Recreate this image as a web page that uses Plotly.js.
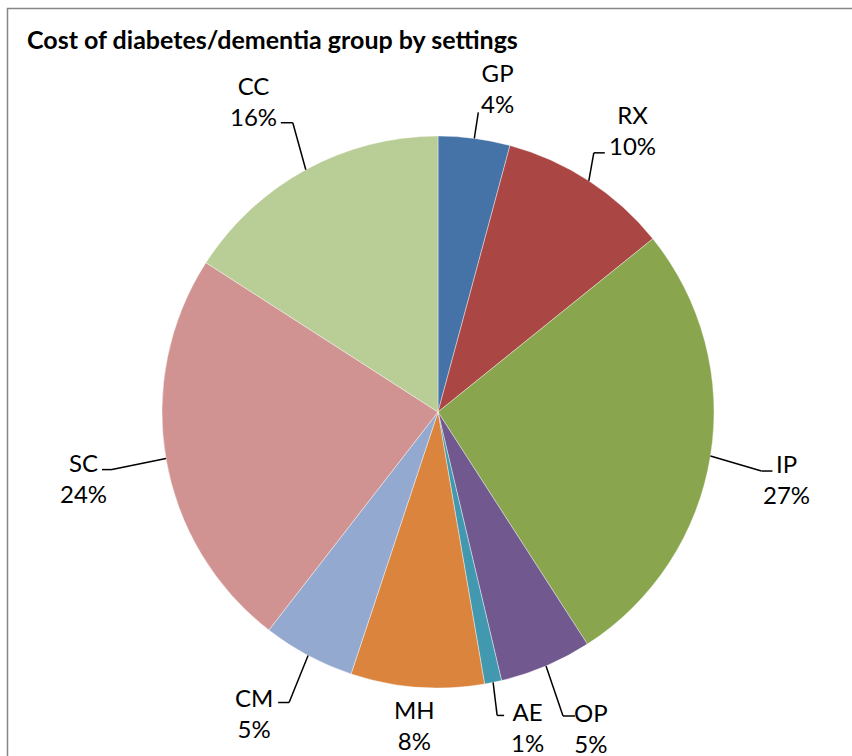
<!DOCTYPE html>
<html>
<head>
<meta charset="utf-8">
<script src="https://cdn.plot.ly/plotly-3.0.1.min.js"></script>
<style>
html,body{margin:0;padding:0;background:#fff;}
#chart{width:852px;height:756px;}
</style>
</head>
<body>
<div id="chart"></div>
<script>
// ---- data ----
const categories = ['GP', 'RX', 'IP', 'OP', 'AE', 'MH', 'CM', 'SC', 'CC'];
const values = [4.2, 10.0, 26.7, 5.4, 1.0, 7.8, 5.4, 23.6, 15.9];
const colors = ['#4572A7', '#AA4643', '#89A54E', '#71588F', '#4198AF', '#DB843D', '#93A9CF', '#D19392', '#B9CD96'];
const chartTitle = 'Cost of diabetes/dementia group by settings';

// ---- layout settings (pixels) ----
const W = 852, H = 756;
const CX = 438, CY = 412, R = 276;
// label centre offset from the slice edge point at mid-angle
const labelOffset = [[23, -50], [44, -51], [76, 23], [45, 62], [34, 45], [-3, 38], [-54, 57], [-82, 19], [-52, -69]];
// leader line: points relative to the label centre (elbow, end); null = no line
const leader = [
  [[-19, 24]],
  [[-39, 23], [-28, 23]],
  [[-25, -8], [-14, -8]],
  [[-28, -12], [-16, -12]],
  [[-30, -12], [-23, -12]],
  null,
  [[35, -10], [24, -10]],
  [[28, -8], [18, -8]],
  [[39, 22], [27, 22]]
];

const px = x => x / W;
const py = y => 1 - y / H;

const total = values.reduce((a, b) => a + b, 0);
let cum = 0;
const annotations = [];
const shapes = [];
values.forEach((v, i) => {
  const mid = (cum + v / 2) / total * 2 * Math.PI;
  cum += v;
  const ex = CX + R * Math.sin(mid);
  const ey = CY - R * Math.cos(mid);
  const lx = ex + labelOffset[i][0];
  const ly = ey + labelOffset[i][1];
  const pct = Math.round(v / total * 100) + '%';
  annotations.push({
    xref: 'paper', yref: 'paper', x: px(lx), y: py(ly),
    xanchor: 'center', yanchor: 'middle', showarrow: false,
    text: categories[i] + '<br>' + pct,
    font: {family: 'Lato, Carlito, sans-serif', size: 24, color: '#000'}
  });
  if (leader[i]) {
    let prev = [ex, ey];
    leader[i].forEach(p => {
      const q = [lx + p[0], ly + p[1]];
      shapes.push({type: 'line', xref: 'paper', yref: 'paper',
        x0: px(prev[0]), y0: py(prev[1]), x1: px(q[0]), y1: py(q[1]),
        line: {color: '#000', width: 1.5}});
      prev = q;
    });
  }
});

// outer chart frame
shapes.push({type: 'rect', xref: 'paper', yref: 'paper',
  x0: px(7.5), y0: py(8.5), x1: px(W + 20), y1: py(H + 20),
  line: {color: '#868686', width: 1.5}, fillcolor: 'rgba(0,0,0,0)'});

const trace = {
  type: 'pie',
  labels: categories,
  values: values,
  sort: false,
  direction: 'clockwise',
  rotation: 0,
  textinfo: 'none',
  hoverinfo: 'label+percent',
  marker: {colors: colors, line: {color: '#ffffff', width: 0.4}},
  domain: {x: [px(CX - R), px(CX + R)], y: [py(CY + R), py(CY - R)]},
  showlegend: false
};

const layout = {
  width: W, height: H,
  margin: {l: 0, r: 0, t: 0, b: 0},
  paper_bgcolor: '#fff',
  showlegend: false,
  title: {
    text: '<b>' + chartTitle + '</b>',
    font: {family: 'Lato, Carlito, sans-serif', size: 25, color: '#000'},
    x: px(27), xanchor: 'left', xref: 'paper',
    y: py(40), yanchor: 'middle', yref: 'paper'
  },
  annotations: annotations,
  shapes: shapes
};

Plotly.newPlot('chart', [trace], layout, {displayModeBar: false, staticPlot: true});
</script>
</body>
</html>
